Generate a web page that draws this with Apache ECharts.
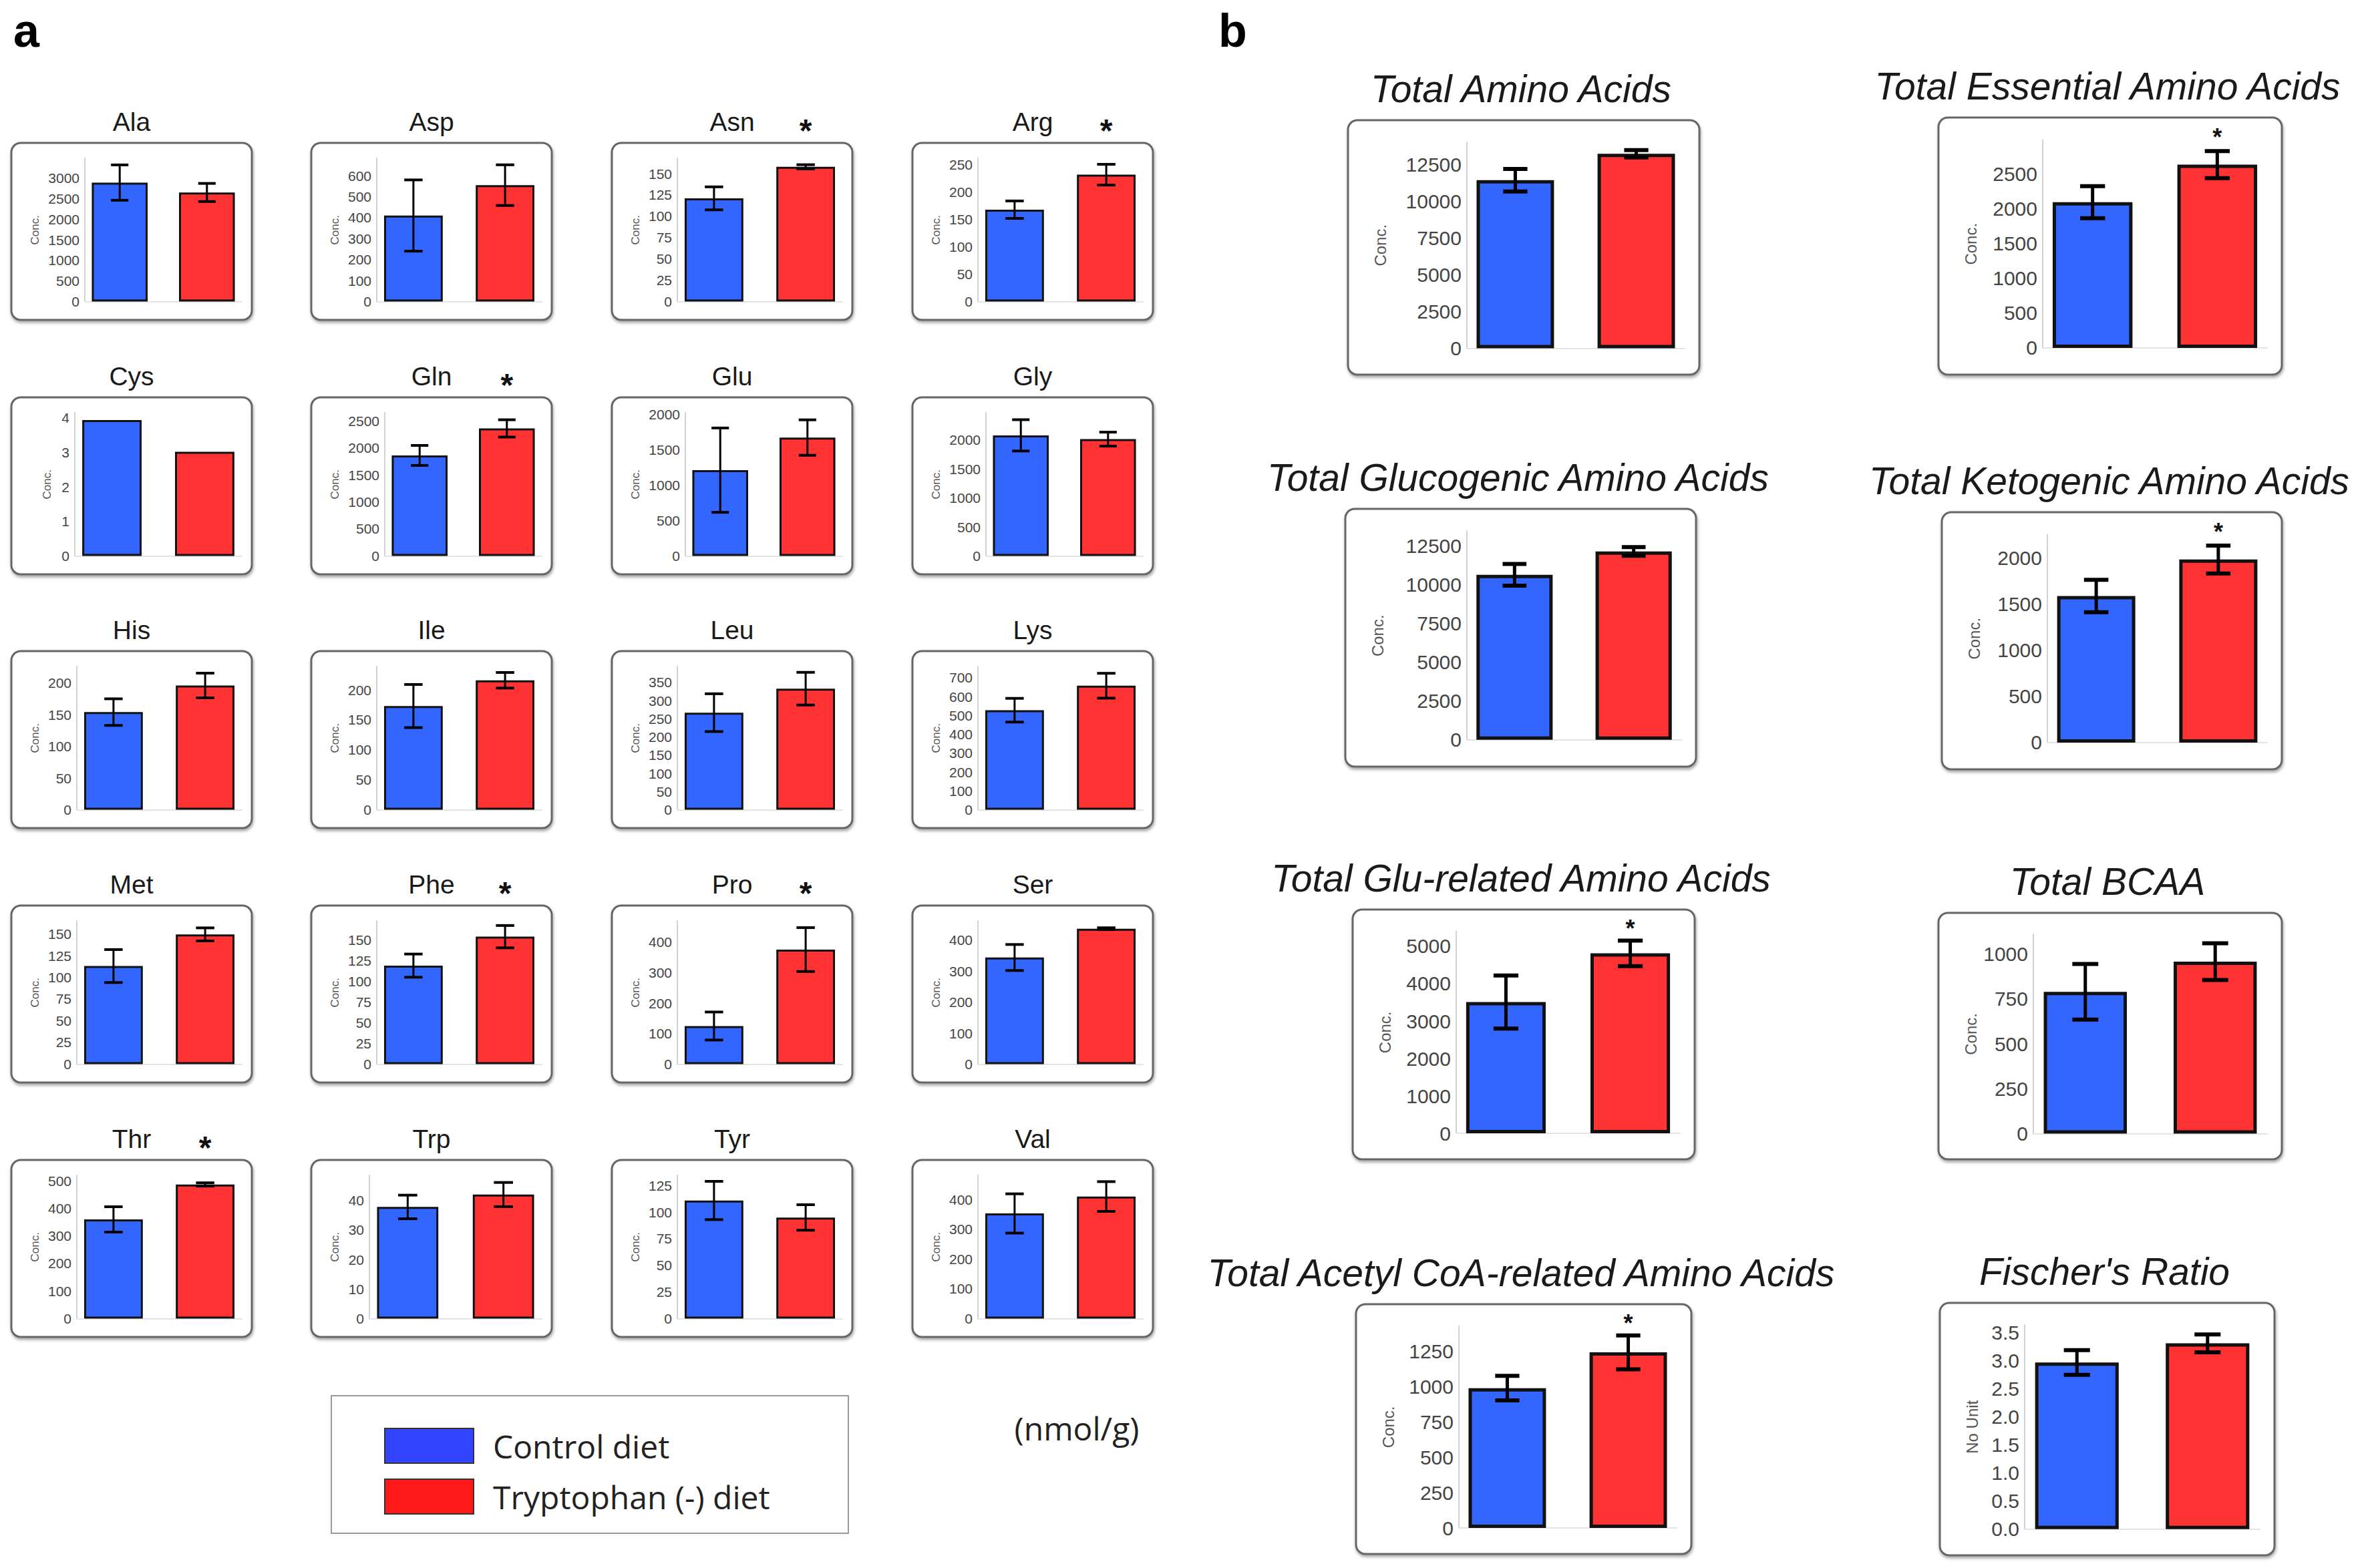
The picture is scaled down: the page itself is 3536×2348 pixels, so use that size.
<!DOCTYPE html>
<html><head><meta charset="utf-8">
<script src="https://cdn.jsdelivr.net/npm/echarts@6/dist/echarts.min.js"></script>
<style>html,body{margin:0;padding:0;background:#fff}#c{width:3536px;height:2348px}</style>
</head><body><div id="c"></div>
<script>
// ================= DATA =================
// Panel a: individual amino acids (nmol/g), mean and error (half-length of error bar)
const aaNames = ['Ala','Asp','Asn','Arg','Cys','Gln','Glu','Gly','His','Ile','Leu','Lys','Met','Phe','Pro','Ser','Thr','Trp','Tyr','Val'];
const aaControl   = [2890, 410, 121, 168, 3.94, 1860, 1210, 2080, 154, 173, 267, 528, 113, 119, 125, 344, 360, 37.8, 111, 353];
const aaControlSE = [430, 170, 13.5, 16, 0, 185, 595, 270, 21, 36, 52, 63, 19, 14, 46, 42, 46, 4, 18, 66];
const aaTrpFree   = [2650, 555, 158, 232, 3.02, 2360, 1670, 2015, 196, 216, 333, 658, 149.5, 154, 376, 437, 487, 42, 95, 410];
const aaTrpFreeSE = [220, 97, 2.5, 19, 0, 160, 250, 120, 19.5, 13, 45, 66, 7.5, 13.5, 72, 3, 6, 4.1, 12, 50];
const aaSignificant = [0,0,1,1,0,1,0,0,0,0,0,0,0,1,1,0,1,0,0,0];
const aaAxisMax  = [3480, 683, 168, 262, 4.15, 2650, 2020, 2470, 226, 239, 394, 760, 165, 173, 470, 462, 520, 48.5, 134.6, 481];
const aaTickStep = [500, 100, 25, 50, 1, 500, 500, 500, 50, 50, 50, 100, 25, 25, 100, 100, 100, 10, 25, 100];

// Panel b: totals
const totNames = ['Total Amino Acids','Total Essential Amino Acids','Total Glucogenic Amino Acids','Total Ketogenic Amino Acids',
                  'Total Glu-related Amino Acids','Total BCAA','Total Acetyl CoA-related Amino Acids',"Fischer's Ratio"];
const totControl   = [11450, 2095, 10630, 1585, 3510, 790, 990, 2.97];
const totControlSE = [770, 230, 700, 175, 710, 155, 87, 0.22];
const totTrpFree   = [13250, 2635, 12130, 1980, 4810, 958, 1243, 3.31];
const totTrpFreeSE = [250, 195, 280, 150, 340, 102, 120, 0.16];
const totSignificant = [0,1,0,1,1,0,1,0];
const totAxisMax  = [14030, 2990, 13430, 2250, 5400, 1110, 1430, 3.64];
const totTickStep = [2500, 500, 2500, 500, 1000, 250, 250, 0.5];
const totAxisName = ['Conc.','Conc.','Conc.','Conc.','Conc.','Conc.','Conc.','No Unit'];

const groupNames = ['Control diet', 'Tryptophan (-) diet'];

// ================= LAYOUT / STYLE =================
const BLUE = '#3366ff', RED = '#ff3333';
const FONT = '"Liberation Sans", Arial, sans-serif';
const aaColX = [17, 466, 916, 1366];
const aaRowY = [214, 595, 975, 1356, 1737];
const aaBoxW = 360, aaBoxH = 265;
const aaInset = [110,98,98,98,95,110,110,110,98,98,98,98,98,98,98,98,98,87,98,98];
const aaNameCX = [35,35,35,35,53,35,35,35,35,35,35,35,35,35,35,35,35,35,35,35];
const totBox = [
  [2018,180,526,381],[2902,176,514,385],
  [2014,762,525,386],[2907,767,509,385],
  [2025,1362,512,374],[2902,1367,514,369],
  [2030,1953,502,374],[2904,1951,501,378]
];
const totInset = [178,156,182,158,155,142,154,127];

const option = {
  backgroundColor: '#ffffff',
  animation: false,
  grid: [], xAxis: [], yAxis: [], series: [], graphic: [],
  legend: {
    left: 575, top: 2138, orient: 'vertical', padding: 0,
    itemWidth: 133, itemHeight: 52, itemGap: 22, icon: 'rect', selectedMode: false,
    itemStyle: {borderColor: '#333', borderWidth: 2},
    textStyle: {fontSize: 48, fontFamily: '"Open Sans", sans-serif', color: '#222', padding: [0,0,0,24]},
    data: [
      {name: groupNames[0], itemStyle: {color: '#3344ff'}},
      {name: groupNames[1], itemStyle: {color: '#ff1a1a'}}
    ]
  }
};

function fmt(step) {
  return function (v) {
    const k = v / step;
    if (Math.abs(k - Math.round(k)) > 1e-6) return '';
    return step < 1 ? v.toFixed(1) : String(Math.round(v));
  };
}

function makeErr(lw, capLw, starDy, starSize) {
  return function (params, api) {
    const x = api.value(0), lo = api.value(1), hi = api.value(2), sig = api.value(3);
    const children = [];
    if (hi > lo) {
      const a = api.coord([x, hi]), b = api.coord([x, lo]);
      const cap = api.size([0.2, 0])[0] / 2;
      children.push({type:'line', shape:{x1:a[0],y1:a[1],x2:b[0],y2:b[1]}, style:{stroke:'#000', lineWidth:lw}});
      children.push({type:'line', shape:{x1:a[0]-cap,y1:a[1],x2:a[0]+cap,y2:a[1]}, style:{stroke:'#000', lineWidth:capLw}});
      children.push({type:'line', shape:{x1:b[0]-cap,y1:b[1],x2:b[0]+cap,y2:b[1]}, style:{stroke:'#000', lineWidth:capLw}});
    }
    if (sig) {
      const p = api.coord([x, 0]);
      children.push({type:'text', x: p[0], y: params.coordSys.y - starDy,
        style:{text:'*', font:'bold ' + starSize + 'px ' + FONT, fill:'#111', align:'center', verticalAlign:'middle'}});
    }
    return {type:'group', children: children};
  };
}

function addChart(p) {
  const gi = option.grid.length;
  const top = p.by + p.bh * 0.087;
  const bottom = p.by + p.bh * 0.896;
  const left = p.bx + p.inset, right = p.bx + p.bw - p.rightPad;
  option.grid.push({left: left, top: top, width: right - left, height: bottom - top});
  option.xAxis.push({gridIndex: gi, type: 'value', min: 0.6, max: 2.4,
    axisLine: {show: true, onZero: false, lineStyle: {color: '#e4e4e4', width: 2}},
    axisTick: {show: false}, axisLabel: {show: false}, splitLine: {show: false}});
  option.yAxis.push({gridIndex: gi, type: 'value', min: 0, max: p.ymax, interval: p.step,
    axisLine: {show: true, lineStyle: {color: '#d2d2d2', width: 2}},
    axisTick: {show: false}, splitLine: {show: false},
    axisLabel: {margin: 8, fontSize: p.labelSize, color: '#444', fontFamily: FONT, showMaxLabel: false, formatter: fmt(p.step)},
    name: p.axisName, nameLocation: 'middle', nameGap: p.inset - p.nameCX - p.nameSize * 0.5,
    nameTextStyle: {fontSize: p.nameSize, color: '#555', fontFamily: FONT}});
  const unitPx = (right - left) / 1.8;
  const bw = unitPx * 0.64;
  option.series.push({type: 'bar', name: groupNames[0], xAxisIndex: gi, yAxisIndex: gi, data: [[1, p.c]],
    barWidth: bw, barGap: '-100%', itemStyle: {color: BLUE, borderColor: '#111', borderWidth: p.border}});
  option.series.push({type: 'bar', name: groupNames[1], xAxisIndex: gi, yAxisIndex: gi, data: [[2, p.t]],
    barWidth: bw, barGap: '-100%', itemStyle: {color: RED, borderColor: '#111', borderWidth: p.border}});
  option.series.push({type: 'custom', xAxisIndex: gi, yAxisIndex: gi, z: 5, silent: true, clip: false,
    renderItem: makeErr(p.errW, p.capW, p.starDy, p.starSize),
    data: [[1, p.c - p.cse, p.c + p.cse, 0], [2, p.t - p.tse, p.t + p.tse, p.sig]]});
  // box
  option.graphic.push({type: 'rect', z: -1, shape: {x: p.bx, y: p.by, width: p.bw, height: p.bh, r: 14},
    style: {fill: '#fff', stroke: '#666666', lineWidth: 3, shadowBlur: 4, shadowOffsetY: 3, shadowOffsetX: 1, shadowColor: 'rgba(0,0,0,0.35)'}});
  // title
  option.graphic.push({type: 'text', z: 10, x: p.titleX, y: p.titleY,
    style: {text: p.title, font: (p.italic ? 'italic ' : '') + p.titleSize + 'px ' + FONT, fill: '#1a1a1a', align: 'center', verticalAlign: 'middle'}});
}

aaNames.forEach(function (nm, i) {
  const col = i % 4, row = Math.floor(i / 4);
  const bx = aaColX[col], by = aaRowY[row];
  addChart({bx: bx, by: by, bw: aaBoxW, bh: aaBoxH, inset: aaInset[i], rightPad: 15,
    c: aaControl[i], cse: aaControlSE[i], t: aaTrpFree[i], tse: aaTrpFreeSE[i], sig: aaSignificant[i],
    ymax: aaAxisMax[i], step: aaTickStep[i], axisName: 'Conc.', nameCX: aaNameCX[i], nameSize: 17, labelSize: 21,
    border: 3, errW: 3, capW: 4, starDy: 42, starSize: 48,
    title: nm, titleX: bx + aaBoxW / 2, titleY: by - 32, titleSize: 39, italic: false});
});

totNames.forEach(function (nm, i) {
  const b = totBox[i];
  addChart({bx: b[0], by: b[1], bw: b[2], bh: b[3], inset: totInset[i], rightPad: 22,
    c: totControl[i], cse: totControlSE[i], t: totTrpFree[i], tse: totTrpFreeSE[i], sig: totSignificant[i],
    ymax: totAxisMax[i], step: totTickStep[i], axisName: totAxisName[i], nameCX: 48, nameSize: 24, labelSize: 30,
    border: 5, errW: 5, capW: 6, starDy: 4, starSize: 36,
    title: nm, titleX: b[0] + b[2] / 2 - 4, titleY: b[1] - 47, titleSize: 57, italic: true});
});

// panel letters, legend frame, unit
option.graphic.push({type: 'text', x: 20, y: 46, style: {text: 'a', font: 'bold 70px ' + FONT, fill: '#000', verticalAlign: 'middle'}});
option.graphic.push({type: 'text', x: 1824, y: 46, style: {text: 'b', font: 'bold 70px ' + FONT, fill: '#000', verticalAlign: 'middle'}});
option.graphic.push({type: 'rect', z: -1, shape: {x: 496, y: 2090, width: 774, height: 206},
  style: {fill: '#fff', stroke: '#9a9a9a', lineWidth: 2}});
option.graphic.push({type: 'text', x: 1612, y: 2138, style: {text: '(nmol/g)', font: '48px "Open Sans", sans-serif', fill: '#222', align: 'center', verticalAlign: 'middle'}});

const chart = echarts.init(document.getElementById('c'), null, {renderer: 'svg', width: 3536, height: 2348});
chart.setOption(option);
</script>
</body></html>
